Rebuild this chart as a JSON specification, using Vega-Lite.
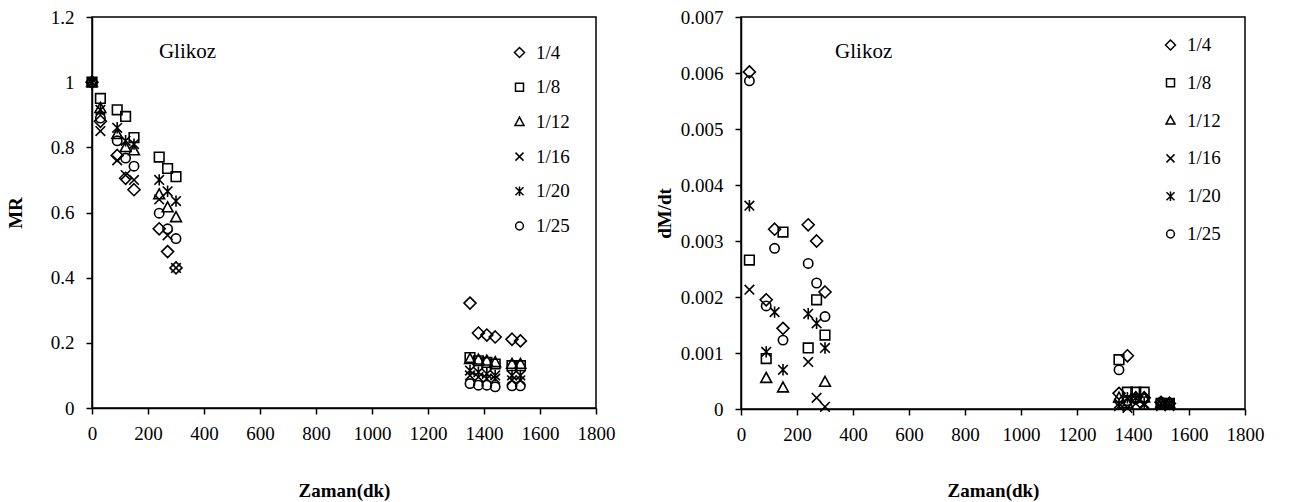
{
  "$schema": "https://vega.github.io/schema/vega-lite/v6.json",
  "background": "white",
  "padding": {"left": 5, "top": 7, "right": 5, "bottom": 2},
  "spacing": 145,
  "bounds": "flush",
  "config": {
    "font": "Liberation Serif",
    "view": {"stroke": "black", "strokeWidth": 1.5},
    "axis": {
      "domainColor": "black", "domainWidth": 1.5,
      "tickColor": "black", "tickWidth": 1.5, "tickSize": 6,
      "labelFont": "Liberation Serif", "labelFontSize": 19, "labelColor": "black",
      "labelOverlap": false, "labelFlush": false,
      "titleFont": "Liberation Serif", "titleFontSize": 19, "titleFontWeight": "bold", "titleColor": "black",
      "grid": false
    },
    "legend": {
      "labelFont": "Liberation Serif", "labelFontSize": 19, "labelColor": "black", "padding": 0
    }
  },
  "resolve": {"scale": {"shape": "independent"}, "legend": {"shape": "independent"}},
  "datasets": {
    "mr": [
      {"s": "1/4", "t": 0, "v": 1}, {"s": "1/4", "t": 30, "v": 0.88}, {"s": "1/4", "t": 90, "v": 0.775}, {"s": "1/4", "t": 120, "v": 0.705}, {"s": "1/4", "t": 150, "v": 0.67}, {"s": "1/4", "t": 240, "v": 0.55}, {"s": "1/4", "t": 270, "v": 0.48}, {"s": "1/4", "t": 300, "v": 0.43}, {"s": "1/4", "t": 1350, "v": 0.322}, {"s": "1/4", "t": 1380, "v": 0.23}, {"s": "1/4", "t": 1410, "v": 0.224}, {"s": "1/4", "t": 1440, "v": 0.218}, {"s": "1/4", "t": 1500, "v": 0.211}, {"s": "1/4", "t": 1530, "v": 0.206},
      {"s": "1/8", "t": 0, "v": 1}, {"s": "1/8", "t": 30, "v": 0.95}, {"s": "1/8", "t": 90, "v": 0.915}, {"s": "1/8", "t": 120, "v": 0.895}, {"s": "1/8", "t": 150, "v": 0.83}, {"s": "1/8", "t": 240, "v": 0.77}, {"s": "1/8", "t": 270, "v": 0.735}, {"s": "1/8", "t": 300, "v": 0.71}, {"s": "1/8", "t": 1350, "v": 0.155}, {"s": "1/8", "t": 1380, "v": 0.145}, {"s": "1/8", "t": 1410, "v": 0.14}, {"s": "1/8", "t": 1440, "v": 0.135}, {"s": "1/8", "t": 1500, "v": 0.13}, {"s": "1/8", "t": 1530, "v": 0.13},
      {"s": "1/12", "t": 0, "v": 1}, {"s": "1/12", "t": 30, "v": 0.92}, {"s": "1/12", "t": 90, "v": 0.84}, {"s": "1/12", "t": 120, "v": 0.8}, {"s": "1/12", "t": 150, "v": 0.79}, {"s": "1/12", "t": 240, "v": 0.655}, {"s": "1/12", "t": 270, "v": 0.615}, {"s": "1/12", "t": 300, "v": 0.585}, {"s": "1/12", "t": 1350, "v": 0.15}, {"s": "1/12", "t": 1380, "v": 0.148}, {"s": "1/12", "t": 1410, "v": 0.145}, {"s": "1/12", "t": 1440, "v": 0.14}, {"s": "1/12", "t": 1500, "v": 0.135}, {"s": "1/12", "t": 1530, "v": 0.135},
      {"s": "1/16", "t": 0, "v": 1}, {"s": "1/16", "t": 30, "v": 0.85}, {"s": "1/16", "t": 90, "v": 0.76}, {"s": "1/16", "t": 120, "v": 0.715}, {"s": "1/16", "t": 150, "v": 0.7}, {"s": "1/16", "t": 240, "v": 0.64}, {"s": "1/16", "t": 270, "v": 0.53}, {"s": "1/16", "t": 300, "v": 0.43}, {"s": "1/16", "t": 1350, "v": 0.1}, {"s": "1/16", "t": 1380, "v": 0.095}, {"s": "1/16", "t": 1410, "v": 0.09}, {"s": "1/16", "t": 1440, "v": 0.09}, {"s": "1/16", "t": 1500, "v": 0.085}, {"s": "1/16", "t": 1530, "v": 0.085},
      {"s": "1/20", "t": 0, "v": 1}, {"s": "1/20", "t": 30, "v": 0.915}, {"s": "1/20", "t": 90, "v": 0.86}, {"s": "1/20", "t": 120, "v": 0.82}, {"s": "1/20", "t": 150, "v": 0.81}, {"s": "1/20", "t": 240, "v": 0.7}, {"s": "1/20", "t": 270, "v": 0.665}, {"s": "1/20", "t": 300, "v": 0.635}, {"s": "1/20", "t": 1350, "v": 0.115}, {"s": "1/20", "t": 1380, "v": 0.11}, {"s": "1/20", "t": 1410, "v": 0.105}, {"s": "1/20", "t": 1440, "v": 0.1}, {"s": "1/20", "t": 1500, "v": 0.1}, {"s": "1/20", "t": 1530, "v": 0.1},
      {"s": "1/25", "t": 0, "v": 1}, {"s": "1/25", "t": 30, "v": 0.89}, {"s": "1/25", "t": 90, "v": 0.82}, {"s": "1/25", "t": 120, "v": 0.767}, {"s": "1/25", "t": 150, "v": 0.742}, {"s": "1/25", "t": 240, "v": 0.598}, {"s": "1/25", "t": 270, "v": 0.55}, {"s": "1/25", "t": 300, "v": 0.52}, {"s": "1/25", "t": 1350, "v": 0.075}, {"s": "1/25", "t": 1380, "v": 0.07}, {"s": "1/25", "t": 1410, "v": 0.07}, {"s": "1/25", "t": 1440, "v": 0.065}, {"s": "1/25", "t": 1500, "v": 0.068}, {"s": "1/25", "t": 1530, "v": 0.068}
    ],
    "dm": [
      {"s": "1/4", "t": 30, "v": 0.00602}, {"s": "1/4", "t": 90, "v": 0.00195}, {"s": "1/4", "t": 120, "v": 0.00321}, {"s": "1/4", "t": 150, "v": 0.00144}, {"s": "1/4", "t": 240, "v": 0.00329}, {"s": "1/4", "t": 270, "v": 0.003}, {"s": "1/4", "t": 300, "v": 0.00209}, {"s": "1/4", "t": 1350, "v": 0.00028}, {"s": "1/4", "t": 1380, "v": 0.00095}, {"s": "1/4", "t": 1410, "v": 0.0002}, {"s": "1/4", "t": 1440, "v": 0.0002}, {"s": "1/4", "t": 1500, "v": 0.00012}, {"s": "1/4", "t": 1530, "v": 0.0001},
      {"s": "1/8", "t": 30, "v": 0.00266}, {"s": "1/8", "t": 90, "v": 0.0009}, {"s": "1/8", "t": 150, "v": 0.00316}, {"s": "1/8", "t": 240, "v": 0.00109}, {"s": "1/8", "t": 270, "v": 0.00195}, {"s": "1/8", "t": 300, "v": 0.00132}, {"s": "1/8", "t": 1350, "v": 0.00088}, {"s": "1/8", "t": 1380, "v": 0.0003}, {"s": "1/8", "t": 1410, "v": 0.0003}, {"s": "1/8", "t": 1440, "v": 0.0003}, {"s": "1/8", "t": 1500, "v": 0.0001}, {"s": "1/8", "t": 1530, "v": 0.0001},
      {"s": "1/12", "t": 90, "v": 0.00055}, {"s": "1/12", "t": 150, "v": 0.00038}, {"s": "1/12", "t": 300, "v": 0.00048}, {"s": "1/12", "t": 1350, "v": 0.0002}, {"s": "1/12", "t": 1380, "v": 0.0001}, {"s": "1/12", "t": 1410, "v": 0.0002}, {"s": "1/12", "t": 1440, "v": 0.0002}, {"s": "1/12", "t": 1500, "v": 0.0001}, {"s": "1/12", "t": 1530, "v": 0.0001},
      {"s": "1/16", "t": 30, "v": 0.00213}, {"s": "1/16", "t": 240, "v": 0.00084}, {"s": "1/16", "t": 270, "v": 0.0002}, {"s": "1/16", "t": 300, "v": 0.00004}, {"s": "1/16", "t": 1350, "v": 0.00005}, {"s": "1/16", "t": 1380, "v": 0.00002}, {"s": "1/16", "t": 1410, "v": 0.0001}, {"s": "1/16", "t": 1440, "v": 0.00008}, {"s": "1/16", "t": 1500, "v": 0.00005}, {"s": "1/16", "t": 1530, "v": 0.00005},
      {"s": "1/20", "t": 30, "v": 0.00363}, {"s": "1/20", "t": 90, "v": 0.00102}, {"s": "1/20", "t": 120, "v": 0.00173}, {"s": "1/20", "t": 150, "v": 0.0007}, {"s": "1/20", "t": 240, "v": 0.0017}, {"s": "1/20", "t": 270, "v": 0.00153}, {"s": "1/20", "t": 300, "v": 0.00109}, {"s": "1/20", "t": 1350, "v": 0.0001}, {"s": "1/20", "t": 1380, "v": 0.0002}, {"s": "1/20", "t": 1410, "v": 0.0002}, {"s": "1/20", "t": 1440, "v": 0.0001}, {"s": "1/20", "t": 1500, "v": 0.0001}, {"s": "1/20", "t": 1530, "v": 0.0001},
      {"s": "1/25", "t": 30, "v": 0.00586}, {"s": "1/25", "t": 90, "v": 0.00184}, {"s": "1/25", "t": 120, "v": 0.00287}, {"s": "1/25", "t": 150, "v": 0.00123}, {"s": "1/25", "t": 240, "v": 0.0026}, {"s": "1/25", "t": 270, "v": 0.00225}, {"s": "1/25", "t": 300, "v": 0.00165}, {"s": "1/25", "t": 1350, "v": 0.0007}, {"s": "1/25", "t": 1380, "v": 0.00015}, {"s": "1/25", "t": 1410, "v": 0.00018}, {"s": "1/25", "t": 1440, "v": 0.00018}, {"s": "1/25", "t": 1500, "v": 0.00012}, {"s": "1/25", "t": 1530, "v": 0.0001}
    ]
  },
  "hconcat": [
    {
      "width": 504,
      "height": 391,
      "layer": [
        {
          "data": {"name": "mr"},
          "mark": {"type": "point", "filled": false, "color": "black", "strokeWidth": 1.6, "opacity": 1, "size": 144},
          "encoding": {
            "x": {"field": "t", "type": "quantitative", "scale": {"domain": [0, 1800], "nice": false, "zero": false},
              "axis": {"values": [0, 200, 400, 600, 800, 1000, 1200, 1400, 1600, 1800], "format": "d", "title": "Zaman(dk)", "titleY": 82, "titleBaseline": "middle", "labelPadding": 10}},
            "y": {"field": "v", "type": "quantitative", "scale": {"domain": [0, 1.2], "nice": false},
              "axis": {"values": [0, 0.2, 0.4, 0.6, 0.8, 1, 1.2], "format": "~g", "title": "MR", "titleX": -77, "titleY": 195.5, "titleAngle": -90, "titleAlign": "center", "titleBaseline": "middle", "labelPadding": 12}},
            "shape": {"field": "s", "type": "nominal",
              "scale": {"domain": ["1/4", "1/8", "1/12", "1/16", "1/20", "1/25"], "range": ["M0,-1L1,0L0,1L-1,0Z", "M-0.8,-0.8L0.8,-0.8L0.8,0.8L-0.8,0.8Z", "M0,-0.95L0.9,0.7L-0.9,0.7Z", "M-0.8,-0.8L0.8,0.8M-0.8,0.8L0.8,-0.8", "M-0.8,-0.8L0.8,0.8M-0.8,0.8L0.8,-0.8M0,-0.95L0,0.95", "M-0.78,0A0.78,0.78 0 1,0 0.78,0A0.78,0.78 0 1,0 -0.78,0Z"]},
              "legend": {"orient": "none", "legendX": 418, "legendY": 26, "title": null, "rowPadding": 14.7, "labelOffset": 7}}
          }
        },
        {
          "data": {"values": [{"label": "Glikoz"}]},
          "mark": {"type": "text", "align": "left", "baseline": "middle", "fontSize": 21, "font": "Liberation Serif", "color": "black"},
          "encoding": {"x": {"datum": 239}, "y": {"datum": 1.092}, "text": {"field": "label"}}
        }
      ]
    },
    {
      "width": 504,
      "height": 392,
      "layer": [
        {
          "data": {"name": "dm"},
          "mark": {"type": "point", "filled": false, "color": "black", "strokeWidth": 1.6, "opacity": 1, "size": 144},
          "encoding": {
            "x": {"field": "t", "type": "quantitative", "scale": {"domain": [0, 1800], "nice": false, "zero": false},
              "axis": {"values": [0, 200, 400, 600, 800, 1000, 1200, 1400, 1600, 1800], "format": "d", "title": "Zaman(dk)", "titleY": 81, "titleBaseline": "middle", "labelPadding": 10}},
            "y": {"field": "v", "type": "quantitative", "scale": {"domain": [0, 0.007], "nice": false},
              "axis": {"values": [0, 0.001, 0.002, 0.003, 0.004, 0.005, 0.006, 0.007], "format": "~g", "title": "dM/dt", "titleX": -77, "titleY": 196, "titleAngle": -90, "titleAlign": "center", "titleBaseline": "middle", "labelPadding": 12}},
            "shape": {"field": "s", "type": "nominal",
              "scale": {"domain": ["1/4", "1/8", "1/12", "1/16", "1/20", "1/25"], "range": ["M0,-1L1,0L0,1L-1,0Z", "M-0.8,-0.8L0.8,-0.8L0.8,0.8L-0.8,0.8Z", "M0,-0.95L0.9,0.7L-0.9,0.7Z", "M-0.8,-0.8L0.8,0.8M-0.8,0.8L0.8,-0.8", "M-0.8,-0.8L0.8,0.8M-0.8,0.8L0.8,-0.8M0,-0.95L0,0.95", "M-0.78,0A0.78,0.78 0 1,0 0.78,0A0.78,0.78 0 1,0 -0.78,0Z"]},
              "legend": {"orient": "none", "legendX": 420, "legendY": 18.5, "title": null, "rowPadding": 17.8, "labelOffset": 7}}
          }
        },
        {
          "data": {"values": [{"label": "Glikoz"}]},
          "mark": {"type": "text", "align": "left", "baseline": "middle", "fontSize": 21, "font": "Liberation Serif", "color": "black"},
          "encoding": {"x": {"datum": 336}, "y": {"datum": 0.006375}, "text": {"field": "label"}}
        }
      ]
    }
  ]
}
